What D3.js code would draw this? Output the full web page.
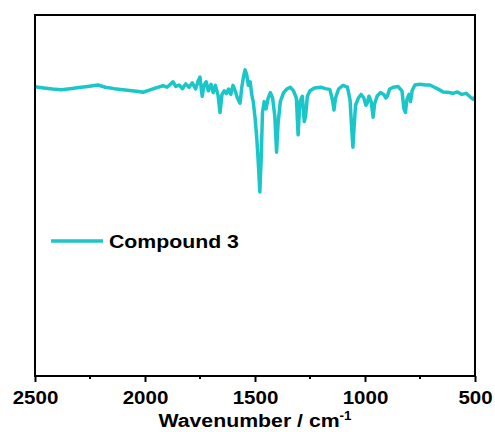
<!DOCTYPE html>
<html>
<head>
<meta charset="utf-8">
<script src="https://cdn.jsdelivr.net/npm/d3@7"></script>
<style>
  html, body { margin: 0; padding: 0; background: #fff; }
  text { font-family: "Liberation Sans", Arial, sans-serif; font-weight: bold; fill: #000; }
</style>
</head>
<body>
<div id="chart"></div>
<script>
// IR spectrum
var wavenumber = [
  2500, 2460, 2420, 2380, 2340, 2300, 2260, 2214, 2180, 2140, 2100, 2060, 2030, 2009,
  1980, 1950, 1918, 1900, 1885, 1873, 1860, 1845, 1830, 1815, 1800, 1785, 1770, 1758,
  1750, 1745, 1740, 1732, 1722, 1712, 1700, 1690, 1680, 1668, 1659, 1650, 1640, 1630,
  1620, 1610, 1600, 1590, 1580, 1568, 1560, 1552, 1545, 1538, 1530, 1522, 1515, 1508,
  1500, 1492, 1484, 1478, 1472, 1466, 1458, 1450, 1440, 1430, 1420, 1410, 1402, 1395,
  1385, 1370, 1355, 1340, 1325, 1312, 1304, 1296, 1285, 1276, 1270, 1262, 1250, 1230,
  1200, 1180, 1160, 1148, 1141, 1134, 1120, 1100, 1080, 1068, 1060, 1055, 1050, 1043,
  1030, 1018, 1005, 996, 990, 982, 972, 963, 956, 945, 930, 915, 905, 898,
  888, 870, 850, 832, 823, 816, 810, 800, 793, 786, 773, 750, 725, 705,
  685, 665, 645, 625, 600, 580, 560, 540, 520, 509, 500
];
var transmittance = [
  80.1, 79.8, 79.5, 79.3, 79.6, 79.9, 80.2, 80.6, 80.0, 79.6, 79.3, 79.0, 78.8, 78.6,
  79.2, 79.8, 80.4, 80.0, 80.8, 81.5, 80.2, 80.6, 79.6, 80.9, 80.0, 81.2, 79.5, 81.8,
  82.8, 80.0, 77.5, 80.5, 81.5, 79.0, 80.8, 78.5, 80.5, 77.8, 73.0, 78.0, 79.0, 78.2,
  79.5, 78.0, 80.5, 79.0, 77.0, 75.6, 80.0, 83.0, 84.8, 83.5, 80.5, 81.5, 78.0, 76.0,
  71.7, 66.0, 58.0, 51.0, 60.0, 73.0, 76.0, 74.0, 77.0, 78.5, 77.0, 72.0, 62.0, 70.0,
  76.0, 78.5, 79.5, 80.0, 79.0, 77.0, 66.8, 76.0, 77.5, 70.5, 72.0, 77.5, 79.0, 79.8,
  80.0, 79.6, 79.4, 76.5, 73.7, 77.0, 79.5, 80.5, 80.0, 76.5, 68.0, 63.4, 68.5, 75.0,
  77.0, 78.0, 77.0, 75.0, 75.5, 77.5, 76.0, 71.7, 75.5, 77.5, 78.5, 78.0, 77.0, 77.6,
  79.5, 80.0, 80.2, 79.0, 74.0, 73.0, 76.5, 78.0, 76.0, 79.0, 80.6, 80.8, 80.6, 80.6,
  80.0, 79.4, 78.7, 78.6, 78.3, 78.7, 78.0, 78.3, 77.2, 76.7, 77.2
];
var xTicks = [2500, 2000, 1500, 1000, 500];
var xMinorTicks = [2250, 1750, 1250, 750];
var seriesName = 'Compound 3';

var W = 495, H = 432;
var margin = { left: 35, right: 20, top: 15, bottom: 56 };
var lineColor = '#1bc6c9';

var svg = d3.select('#chart').append('svg')
  .attr('width', W)
  .attr('height', H);

var x = d3.scaleLinear()
  .domain([2500, 500])
  .range([margin.left, W - margin.right]);

var y = d3.scaleLinear()
  .domain([0, 100])
  .range([H - margin.bottom, margin.top]);

var data = wavenumber.map((d, i) => ({ wn: d, t: transmittance[i] }));

// spectrum
svg.append('path')
  .datum(data)
  .attr('fill', 'none')
  .attr('stroke', lineColor)
  .attr('stroke-width', 3.5)
  .attr('stroke-linejoin', 'round')
  .attr('d', d3.line().x(d => x(d.wn)).y(d => y(d.t)));

// frame
svg.append('rect')
  .attr('x', margin.left)
  .attr('y', margin.top)
  .attr('width', W - margin.left - margin.right)
  .attr('height', H - margin.top - margin.bottom)
  .attr('fill', 'none')
  .attr('stroke', '#000')
  .attr('stroke-width', 2);

// bottom axis, ticks pointing outward
var xAxis = svg.append('g')
  .attr('transform', 'translate(0,' + (H - margin.bottom) + ')')
  .call(d3.axisBottom(x).tickValues(xTicks).tickSize(6).tickFormat(d3.format('d')));
xAxis.select('.domain').remove();
xAxis.selectAll('line').attr('stroke-width', 2);
xAxis.selectAll('text')
  .attr('y', 0)
  .attr('dy', 0)
  .attr('transform', 'translate(0,28) scale(1.08,1)')
  .style('font-size', '19px');

svg.append('g')
  .attr('transform', 'translate(0,' + (H - margin.bottom) + ')')
  .selectAll('line')
  .data(xMinorTicks)
  .enter().append('line')
  .attr('x1', d => x(d)).attr('x2', d => x(d))
  .attr('y1', 0).attr('y2', 3)
  .attr('stroke', '#000')
  .attr('stroke-width', 2);

// axis title
var title = svg.append('text')
  .attr('transform', 'translate(' + ((margin.left + W - margin.right) / 2) + ',427) scale(1.12,1)')
  .style('text-anchor', 'middle')
  .style('font-size', '19px');
title.append('tspan').text('Wavenumber / cm');
title.append('tspan').attr('dy', -7).style('font-size', '12px').text('-1');

// legend
var legend = svg.append('g').attr('transform', 'translate(51,241)');
legend.append('line')
  .attr('x1', 0).attr('x2', 52)
  .attr('y1', 0).attr('y2', 0)
  .attr('stroke', lineColor)
  .attr('stroke-width', 3.5);
legend.append('text')
  .attr('transform', 'translate(58,7) scale(1.12,1)')
  .style('font-size', '19px')
  .text(seriesName);
</script>
</body>
</html>
